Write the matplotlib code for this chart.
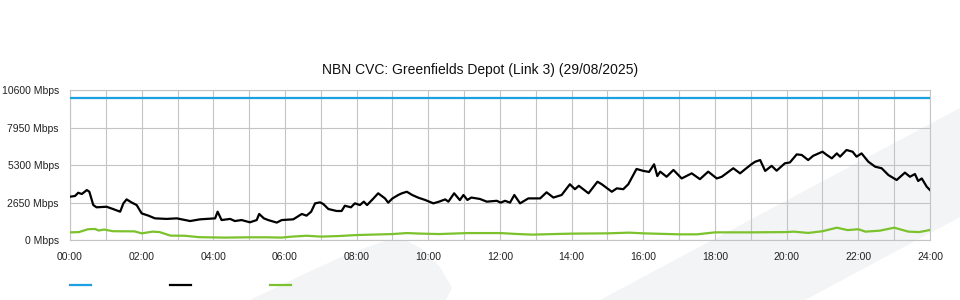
import numpy as np
import matplotlib
matplotlib.use('Agg')
import matplotlib.pyplot as plt
from matplotlib.patches import Polygon
from matplotlib.lines import Line2D

plt.rcParams['font.family'] = ['Liberation Sans', 'DejaVu Sans']

# chart text
title = 'NBN CVC: Greenfields Depot (Link 3) (29/08/2025)'
y_ticks = [0, 2650, 5300, 7950, 10600]
y_labels = ['%d Mbps' % v for v in y_ticks]
x_ticks = list(range(0, 25, 2))
x_labels = ['%02d:00' % h for h in x_ticks]

# capacity (flat)
cap_h = [0, 24]
cap_v = [10000, 10000]

# main traffic (black), hours / Mbps
black_h = [0, 0.14, 0.23, 0.33, 0.47, 0.54, 0.65, 0.74, 1.02, 1.2,
           1.4, 1.49, 1.58, 1.72, 1.86, 2.0, 2.19, 2.37, 2.7, 2.98,
           3.35, 3.63, 4.05, 4.12, 4.23, 4.47, 4.6, 4.79, 5.02, 5.21,
           5.28, 5.41, 5.53, 5.77, 5.91, 6.23, 6.47, 6.6, 6.73, 6.84,
           6.98, 7.07, 7.21, 7.44, 7.58, 7.67, 7.84, 7.95, 8.09, 8.2,
           8.29, 8.47, 8.6, 8.79, 8.88, 9.0, 9.16, 9.26, 9.4, 9.55,
           9.72, 9.91, 10.14, 10.3, 10.47, 10.56, 10.72, 10.88, 10.98, 11.09,
           11.2, 11.44, 11.63, 11.91, 12.02, 12.14, 12.28, 12.4, 12.56, 12.79,
           13.12, 13.3, 13.49, 13.72, 13.95, 14.09, 14.2, 14.47, 14.72, 14.84,
           15.12, 15.26, 15.44, 15.58, 15.81, 15.99, 16.16, 16.3, 16.39, 16.47,
           16.65, 16.84, 17.07, 17.35, 17.58, 17.81, 18.05, 18.19, 18.51, 18.7,
           18.84, 19.02, 19.12, 19.26, 19.4, 19.58, 19.72, 19.95, 20.09, 20.28,
           20.42, 20.6, 20.74, 21.0, 21.12, 21.26, 21.4, 21.49, 21.67, 21.84,
           21.95, 22.09, 22.28, 22.47, 22.65, 22.84, 23.07, 23.3, 23.44, 23.58,
           23.67, 23.77, 23.91, 24.0]
black_v = [3060, 3110, 3340, 3250, 3530, 3410, 2470, 2310, 2350, 2190,
           2000, 2590, 2870, 2650, 2470, 1880, 1720, 1530, 1490, 1530,
           1340, 1460, 1530, 2000, 1410, 1490, 1340, 1410, 1250, 1410,
           1840, 1530, 1410, 1230, 1410, 1460, 1840, 1720, 2000, 2590,
           2660, 2540, 2190, 2050, 2050, 2420, 2310, 2590, 2470, 2710,
           2470, 2940, 3300, 2940, 2640, 2940, 3180, 3300, 3410, 3180,
           2990, 2830, 2590, 2710, 2870, 2710, 3300, 2820, 3180, 2830,
           3000, 2900, 2710, 2770, 2640, 2770, 2640, 3180, 2590, 2940,
           2940, 3370, 3000, 3180, 3940, 3590, 3830, 3300, 4120, 3940,
           3410, 3650, 3590, 3940, 5020, 4890, 4810, 5350, 4520, 4830,
           4470, 4950, 4350, 4710, 4300, 4830, 4350, 4470, 5070, 4710,
           5000, 5360, 5530, 5650, 4880, 5240, 4900, 5420, 5480, 6050,
           6010, 5650, 5950, 6240, 6010, 5770, 6120, 5890, 6360, 6240,
           5890, 6120, 5530, 5180, 5070, 4590, 4240, 4760, 4470, 4660,
           4170, 4350, 3760, 3530]

# second traffic series (green)
green_h = [0, 0.25, 0.5, 0.7, 0.8, 0.95, 1.2, 1.8, 2.0, 2.3,
           2.5, 2.8, 3.2, 3.6, 4.3, 5.0, 5.5, 5.9, 6.2, 6.6,
           7.0, 7.5, 8.0, 9.0, 9.4, 9.8, 10.3, 11.1, 11.3, 12.0,
           12.5, 12.9, 13.5, 14.0, 15.0, 15.6, 16.0, 17.0, 17.5, 18.0,
           19.0, 20.0, 20.2, 20.6, 21.0, 21.4, 21.7, 22.0, 22.2, 22.6,
           23.0, 23.4, 23.7, 24.0]
green_v = [540, 560, 760, 780, 670, 740, 620, 610, 470, 590,
           560, 310, 300, 200, 170, 190, 190, 170, 240, 300,
           240, 280, 350, 420, 490, 450, 420, 490, 490, 490,
           420, 380, 420, 450, 470, 520, 470, 400, 400, 540,
           540, 560, 590, 500, 620, 870, 700, 760, 590, 660,
           870, 590, 560, 710]

W, H = 960, 300
fig = plt.figure(figsize=(W / 100, H / 100), dpi=100)

def px(x, y):
	# pixel -> figure fraction
	return (x / W, 1 - y / H)

# faint watermark shapes behind everything
bg = '#f3f4f6'
blob = [(250, 300), (300, 276), (350, 253), (385, 241), (405, 240), (422, 249),
        (440, 267), (452, 288), (446, 300)]
band = [(600, 300), (960, 108), (960, 217), (805, 300)]
for pts in (blob, band):
	fig.patches.append(Polygon([px(*p) for p in pts], closed=True, transform=fig.transFigure,
	                           facecolor=bg, edgecolor='none', zorder=-5))

ax = fig.add_axes([70 / W, 1 - 240 / H, 860 / W, 150 / H])
ax.set_facecolor('none')

grid_c = '#c4c4c4'
ax.plot(cap_h, cap_v, color='#1ba1e2', lw=1.6, zorder=3)
ax.plot(black_h, black_v, color='#000000', lw=1.6, zorder=3)
ax.plot(green_h, green_v, color='#7cc22c', lw=1.6, zorder=3)

ax.set_xlim(0, 24)
ax.set_ylim(0, 10600)
ax.set_xticks(x_ticks)
ax.set_xticklabels(x_labels)
ax.set_xticks(range(1, 24, 2), minor=True)
ax.set_yticks(y_ticks)
ax.set_yticklabels(y_labels)
ax.tick_params(axis='both', which='both', length=0, labelsize=7.5, colors='#222222')
ax.tick_params(axis='y', pad=8)
ax.tick_params(axis='x', pad=9)
ax.grid(True, which='both', color=grid_c, lw=0.8, zorder=1)
for s in ax.spines.values():
	s.set_color(grid_c)
	s.set_linewidth(0.8)

fig.text(480 / W, 1 - 70 / H, title, ha='center', va='center', fontsize=10, color='#111111')

# legend keys (no labels)
for x0, c in [(70, '#1ba1e2'), (170, '#000000'), (270, '#7cc22c')]:
	fig.lines.append(Line2D([x0 / W, (x0 + 21) / W], [1 - 285 / H, 1 - 285 / H],
	                        transform=fig.transFigure, color=c, lw=1.6))

fig.savefig('out.png', dpi=100)
